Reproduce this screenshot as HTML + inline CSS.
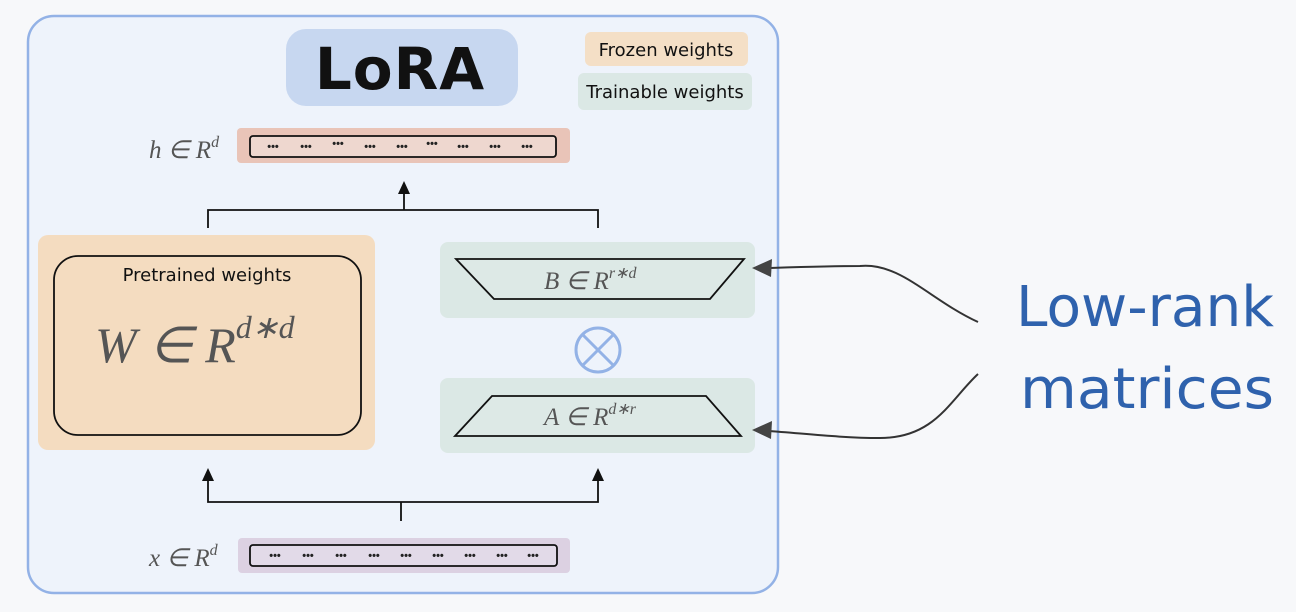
<!DOCTYPE html>
<html><head><meta charset="utf-8"><style>
html,body{margin:0;padding:0;background:#f7f8fa;}
svg{display:block}
.hand{font-family:"Comic Sans MS","DejaVu Sans",sans-serif;}
.math{font-family:"Liberation Serif",serif;font-style:italic;fill:#555;}
.dot{font-family:"Liberation Sans",sans-serif;font-size:11px;font-weight:bold;fill:#222;text-anchor:middle;}
</style></head><body>
<svg width="1296" height="612" viewBox="0 0 1296 612" xmlns="http://www.w3.org/2000/svg">
<rect x="0" y="0" width="1296" height="612" fill="#f7f8fa"/>
<rect x="28" y="16" width="750" height="577" rx="26" fill="#eef3fb" stroke="#93b2e6" stroke-width="2.5"/>
<!-- title -->
<rect x="286" y="29" width="232" height="77" rx="20" fill="#c7d7f0"/>
<text x="400" y="89" text-anchor="middle" class="hand" font-size="58" font-weight="bold" fill="#111" letter-spacing="1">LoRA</text>
<rect x="585" y="32" width="163" height="34" rx="6" fill="#f4dfc6"/>
<text x="666" y="56" text-anchor="middle" class="hand" font-size="18" fill="#111">Frozen weights</text>
<rect x="578" y="73" width="174" height="37" rx="6" fill="#dbe8e5"/>
<text x="665" y="98" text-anchor="middle" class="hand" font-size="18" fill="#111">Trainable weights</text>
<!-- h row -->
<text x="149" y="158" class="math" font-size="25">h ∈ R<tspan font-size="16" dy="-11">d</tspan></text>
<rect x="237" y="128" width="333" height="35" rx="4" fill="#e9c4b8"/>
<rect x="250" y="136" width="306" height="21" rx="3" fill="#eed7cf" stroke="#111" stroke-width="1.8"/>
<g class="dot">
<text x="273" y="150" class="dot">•••</text><text x="306" y="150" class="dot">•••</text><text x="338" y="147" class="dot">•••</text><text x="370" y="150" class="dot">•••</text><text x="402" y="150" class="dot">•••</text><text x="432" y="147" class="dot">•••</text><text x="463" y="150" class="dot">•••</text><text x="495" y="150" class="dot">•••</text><text x="527" y="150" class="dot">•••</text>
</g>
<!-- top bracket -->
<path d="M208 228 V210 H598 V228 M404 210 V188" fill="none" stroke="#111" stroke-width="1.8"/>
<path d="M404 181 L398 194 L410 194 Z" fill="#111"/>
<!-- pretrained -->
<rect x="38" y="235" width="337" height="215" rx="10" fill="#f4dcc0"/>
<rect x="54" y="256" width="307" height="179" rx="24" fill="#f4dcc0" stroke="#111" stroke-width="1.8"/>
<text x="207" y="281" text-anchor="middle" class="hand" font-size="18" fill="#111">Pretrained weights</text>
<text x="95" y="362" class="math" font-size="50">W ∈ R<tspan font-size="32" dy="-24">d∗d</tspan></text>
<!-- B -->
<rect x="440" y="242" width="315" height="76" rx="8" fill="#dbe8e5"/>
<path d="M456 259 H744 L710 299 H494 Z" fill="#dde9e6" stroke="#111" stroke-width="1.8"/>
<text x="544" y="289" class="math" font-size="25">B ∈ R<tspan font-size="16" dy="-11">r∗d</tspan></text>
<!-- otimes -->
<circle cx="598" cy="350" r="22" fill="none" stroke="#93b2e6" stroke-width="3"/>
<path d="M583 335 L613 365 M613 335 L583 365" stroke="#93b2e6" stroke-width="3"/>
<!-- A -->
<rect x="440" y="378" width="315" height="75" rx="8" fill="#dbe8e5"/>
<path d="M492 396 H706 L741 436 H455 Z" fill="#dde9e6" stroke="#111" stroke-width="1.8"/>
<text x="544" y="425" class="math" font-size="25">A ∈ R<tspan font-size="16" dy="-11">d∗r</tspan></text>
<!-- bottom bracket -->
<path d="M208 477 V502 H598 V477 M401 502 V521" fill="none" stroke="#111" stroke-width="1.8"/>
<path d="M208 468 L202 481 L214 481 Z M598 468 L592 481 L604 481 Z" fill="#111"/>
<!-- x row -->
<text x="149" y="566" class="math" font-size="25">x ∈ R<tspan font-size="16" dy="-11">d</tspan></text>
<rect x="238" y="538" width="332" height="35" rx="4" fill="#dcd1e2"/>
<rect x="250" y="545" width="307" height="21" rx="3" fill="#e2dae8" stroke="#111" stroke-width="1.8"/>
<g>
<text x="275" y="559" class="dot">•••</text><text x="308" y="559" class="dot">•••</text><text x="341" y="559" class="dot">•••</text><text x="374" y="559" class="dot">•••</text><text x="406" y="559" class="dot">•••</text><text x="438" y="559" class="dot">•••</text><text x="470" y="559" class="dot">•••</text><text x="502" y="559" class="dot">•••</text><text x="533" y="559" class="dot">•••</text>
</g>
<!-- right annotation -->
<path d="M978 322 C930 300 900 262 860 266 C830 266 800 267 768 268" fill="none" stroke="#333" stroke-width="2"/>
<path d="M752 268 L772 259 L771 277 Z" fill="#444"/>
<path d="M978 374 C950 400 935 438 880 438 C840 438 800 433 768 431" fill="none" stroke="#333" stroke-width="2"/>
<path d="M752 430 L772 421 L771 439 Z" fill="#444"/>
<text x="1016" y="326" class="hand" font-size="56" fill="#2f62ad" textLength="258" lengthAdjust="spacingAndGlyphs">Low-rank</text>
<text x="1020" y="408" class="hand" font-size="56" fill="#2f62ad" textLength="254" lengthAdjust="spacingAndGlyphs">matrices</text>
</svg>
</body></html>
